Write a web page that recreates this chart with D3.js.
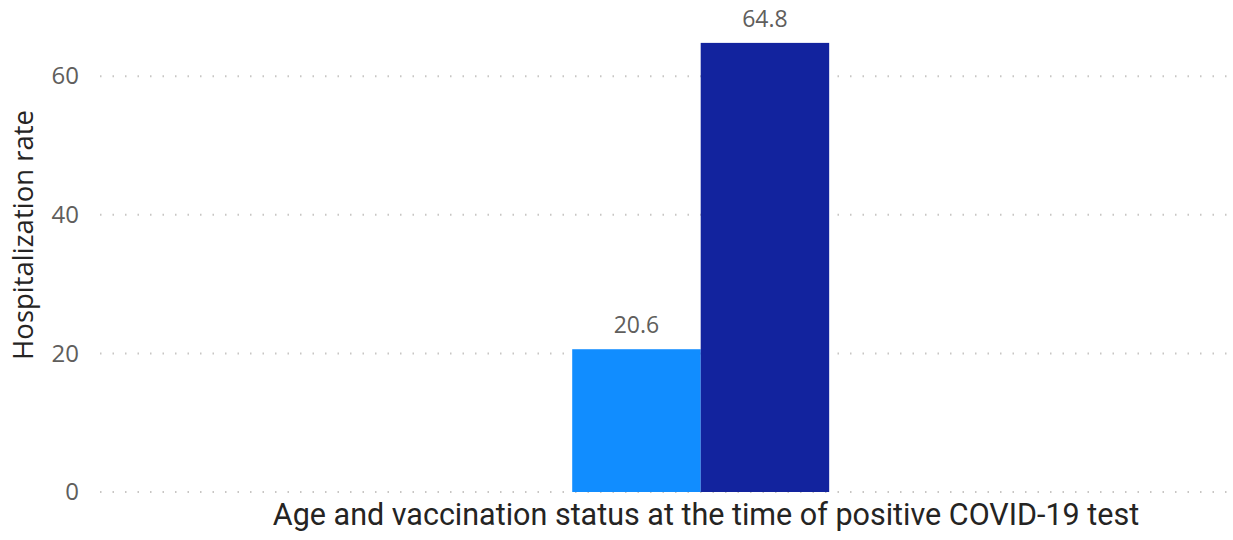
<!DOCTYPE html>
<html>
<head>
<meta charset="utf-8">
<script src="https://cdn.jsdelivr.net/npm/d3@7"></script>
<style>
  html, body { margin: 0; padding: 0; background: #fff; }
  svg { display: block; }
</style>
</head>
<body>
<svg id="chart" width="1233" height="540"></svg>
<script>
const categories = ["All ages"];
const seriesNames = ["Vaccinated", "Unvaccinated"];
const seriesValues = [[20.6], [64.8]];
const seriesColors = ["#118DFF", "#12239E"];
const yTicks = [0, 20, 40, 60];
const yTitle = "Hospitalization rate";
const xTitle = "Age and vaccination status at the time of positive COVID-19 test";

const svg = d3.select("#chart");
const plotLeft = 100, plotRight = 1228, plotTop = 41.5, plotBottom = 492;
const uiFont = "'Segoe UI', 'Open Sans', sans-serif";

const x = d3.scaleBand().domain(categories).range([plotLeft, plotRight - 3])
  .paddingInner(0).paddingOuter(1.689).align(0.544);
const xs = d3.scaleBand().domain(seriesNames).range([0, x.bandwidth()]).padding(0);
const y = d3.scaleLinear().domain([0, 65]).range([plotBottom, plotTop]);

// gridlines
const grid = svg.append("g");
grid.selectAll("line").data(yTicks).join("line")
  .attr("x1", plotLeft).attr("x2", plotRight)
  .attr("y1", d => y(d)).attr("y2", d => y(d))
  .attr("stroke", "#C8C6C4").attr("stroke-width", 2)
  .attr("stroke-dasharray", "1.5,11").attr("stroke-linecap", "butt");

// y axis labels
const yAxis = d3.axisLeft(y).tickValues(yTicks).tickSize(0).tickPadding(0).tickFormat(d3.format("d"));
const ya = svg.append("g").attr("transform", `translate(79,0)`).call(yAxis);
ya.select(".domain").remove();
ya.selectAll("text").attr("fill", "#605E5C")
  .style("font-family", uiFont).style("font-size", "24px");

// bars
const data = [];
categories.forEach((c, ci) => seriesNames.forEach((s, si) => data.push({c, s, v: seriesValues[si][ci], color: seriesColors[si]})));
svg.append("g").selectAll("rect").data(data).join("rect")
  .attr("x", d => x(d.c) + xs(d.s)).attr("width", xs.bandwidth())
  .attr("y", d => y(d.v)).attr("height", d => y(0) - y(d.v))
  .attr("fill", d => d.color);

// value labels
svg.append("g").selectAll("text").data(data).join("text")
  .attr("x", d => x(d.c) + xs(d.s) + xs.bandwidth() / 2)
  .attr("y", d => y(d.v) - 16)
  .attr("text-anchor", "middle").attr("fill", "#605E5C")
  .style("font-family", uiFont).style("font-size", "23px")
  .text(d => d.v.toFixed(1));

// y title
svg.append("text")
  .attr("transform", `translate(33,235) rotate(-90)`)
  .attr("text-anchor", "middle").attr("fill", "#252423")
  .style("font-family", uiFont).style("font-size", "27.5px")
  .text(yTitle);

// x title
svg.append("text")
  .attr("x", 706).attr("y", 525)
  .attr("text-anchor", "middle").attr("fill", "#252423")
  .style("font-family", "'Roboto', sans-serif").style("font-size", "30.5px")
  .text(xTitle);
</script>
</body>
</html>
